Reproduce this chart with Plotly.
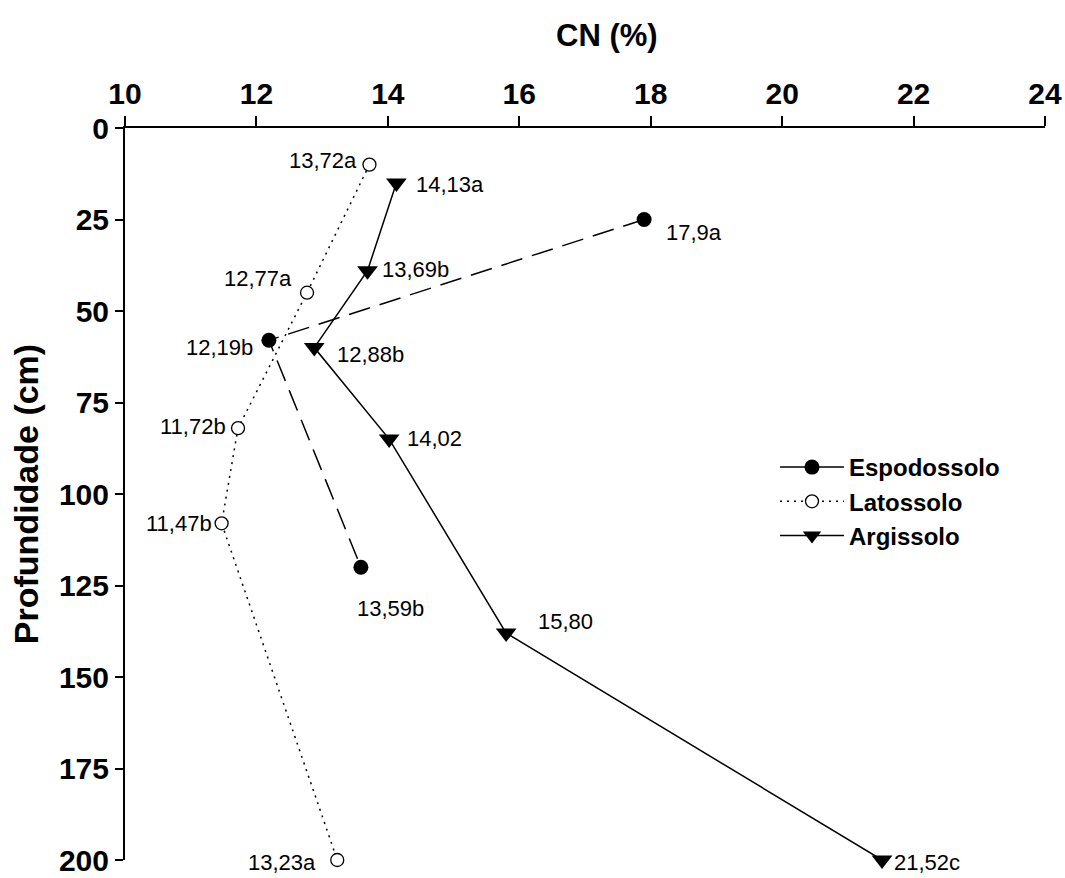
import plotly.graph_objects as go

# Data
esp_cn = [17.9, 12.19, 13.59]
esp_depth = [25, 58, 120]
esp_labels = ["17,9a", "12,19b", "13,59b"]

lat_cn = [13.72, 12.77, 11.72, 11.47, 13.23]
lat_depth = [10, 45, 82, 108, 200]
lat_labels = ["13,72a", "12,77a", "11,72b", "11,47b", "13,23a"]

arg_cn = [14.13, 13.69, 12.88, 14.02, 15.80, 21.52]
arg_depth = [15, 39, 60, 85, 138, 200]
arg_labels = ["14,13a", "13,69b", "12,88b", "14,02", "15,80", "21,52c"]

x_ticks = [10, 12, 14, 16, 18, 20, 22, 24]
y_ticks = [0, 25, 50, 75, 100, 125, 150, 175, 200]

FONT = "Liberation Sans, Arial, sans-serif"

fig = go.Figure()

open_marker = dict(symbol="circle", size=13, color="white", line=dict(width=1.3, color="black"))

# data traces
fig.add_trace(go.Scatter(x=esp_cn, y=esp_depth, mode="lines+markers", showlegend=False,
                         line=dict(color="black", width=1.5, dash="22px,10px"),
                         marker=dict(symbol="circle", size=15, color="black"),
                         cliponaxis=False))
fig.add_trace(go.Scatter(x=lat_cn, y=lat_depth, mode="lines+markers", showlegend=False,
                         line=dict(color="black", width=1.5, dash="2px,5px"),
                         marker=open_marker, cliponaxis=False))
fig.add_trace(go.Scatter(x=arg_cn, y=arg_depth, mode="lines+markers", showlegend=False,
                         line=dict(color="black", width=1.5),
                         marker=dict(symbol="triangle-down", size=18, color="black"),
                         cliponaxis=False))

# legend-only traces
fig.add_trace(go.Scatter(x=[None], y=[None], mode="lines+markers", name="Espodossolo",
                         line=dict(color="black", width=1.5),
                         marker=dict(symbol="circle", size=15, color="black")))
fig.add_trace(go.Scatter(x=[None], y=[None], mode="lines+markers", name="Latossolo",
                         line=dict(color="black", width=1.5, dash="2px,5px"),
                         marker=open_marker))
fig.add_trace(go.Scatter(x=[None], y=[None], mode="lines+markers", name="Argissolo",
                         line=dict(color="black", width=1.5),
                         marker=dict(symbol="triangle-down", size=18, color="black")))

# point labels: (anchor, xshift, yshift)
esp_pos = [("left", 20, -13), ("right", -14, -7), ("center", 30, -41)]
lat_pos = [("right", -10, 4), ("right", -13, 14), ("right", -10, 2), ("right", -8, 0), ("right", -19, -2)]
arg_pos = [("left", 18, -2), ("left", 13, 1), ("left", 21, -7), ("left", 16, 1), ("left", 30, 12), ("left", 10, -2)]

for xs, ys, labs, pos in [(esp_cn, esp_depth, esp_labels, esp_pos),
                          (lat_cn, lat_depth, lat_labels, lat_pos),
                          (arg_cn, arg_depth, arg_labels, arg_pos)]:
    for x, y, t, (anc, dx, dy) in zip(xs, ys, labs, pos):
        fig.add_annotation(x=x, y=y, text=t, showarrow=False, xanchor=anc, yanchor="middle",
                           xshift=dx, yshift=dy, font=dict(family=FONT, size=22, color="black"))

# x-axis title (slightly off-centre, as in the original)
fig.add_annotation(x=(607 - 125) / 920, y=1, xref="paper", yref="paper", yshift=93,
                   text="<b>CN (%)</b>", showarrow=False, yanchor="middle",
                   font=dict(family=FONT, size=31, color="black"))

fig.update_layout(
    width=1065, height=878,
    margin=dict(l=125, r=20, t=128, b=18, autoexpand=False),
    paper_bgcolor="white", plot_bgcolor="white",
    font=dict(family=FONT, color="black"),
    legend=dict(x=(775 - 125) / 920, y=(860 - 445) / 732, xanchor="left", yanchor="top",
                font=dict(family=FONT, size=24, color="black", weight="bold"),
                bgcolor="rgba(0,0,0,0)", tracegroupgap=0, itemwidth=64),
    xaxis=dict(side="top", range=[10, 24], tickvals=x_ticks, ticktext=[str(v) for v in x_ticks],
               showgrid=False, zeroline=False, showline=True, linecolor="black", linewidth=2,
               ticks="outside", ticklen=10, tickwidth=2, tickcolor="black", automargin=False,
               tickfont=dict(family=FONT, size=30, color="black", weight="bold")),
    yaxis=dict(range=[200, 0], tickvals=y_ticks, ticktext=[str(v) for v in y_ticks],
               showgrid=False, zeroline=False, showline=True, linecolor="black", linewidth=2,
               ticks="outside", ticklen=8, tickwidth=2, tickcolor="black", automargin=False,
               title=dict(text="<b>Profundidade (cm)</b>", standoff=10,
                          font=dict(family=FONT, size=34, color="black")),
               tickfont=dict(family=FONT, size=30, color="black", weight="bold")),
)

fig.write_html("out.html")
